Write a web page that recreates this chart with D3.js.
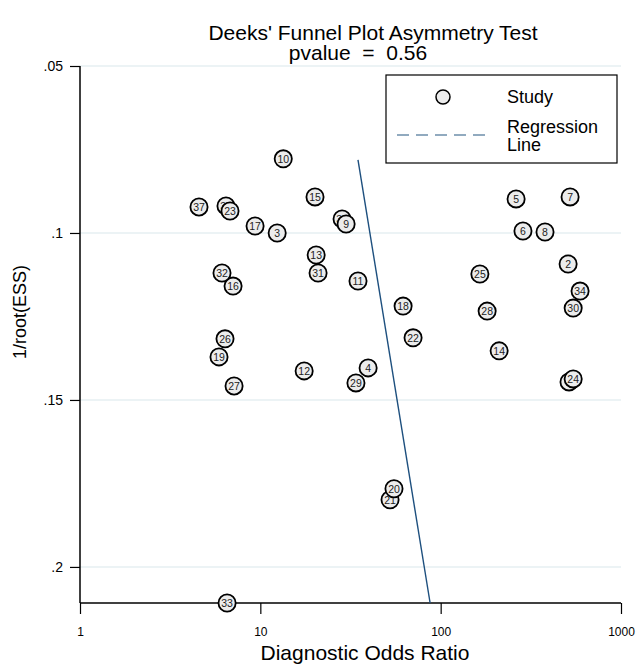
<!DOCTYPE html>
<html>
<head>
<meta charset="utf-8">
<script src="https://cdn.jsdelivr.net/npm/d3@7"></script>
<style>
  body { margin: 0; background: #fff; }
  svg { font-family: "Liberation Sans", Arial, Helvetica, sans-serif; }
</style>
</head>
<body>
<svg id="deeks" width="637" height="669"></svg>
<script>
// study data (listed in drawing order)
var studyIds = [35, 36, 1, 2, 3, 4, 5, 6, 7, 8, 9, 10, 11, 12, 13, 14, 15, 16, 17, 18, 19,
  21, 20, 22, 23, 24, 25, 26, 27, 28, 29, 30, 31, 32, 33, 34, 37];
var oddsRatio = [6.45, 28.4, 515, 509, 12.4, 39.6, 262, 286, 522, 379, 29.9, 13.4, 34.8,
  17.5, 20.4, 211, 20.1, 7.06, 9.35, 61.9, 5.90, 52.4, 55.1, 70.3, 6.79, 543, 165, 6.37,
  7.15, 181, 33.9, 543, 20.9, 6.13, 6.54, 593, 4.57];
var invRootEss = [.0919, .0958, .1446, .1093, .1000, .1404, .0898, .0994, .0892, .0997,
  .0973, .0778, .1144, .1413, .1066, .1353, .0892, .1159, .0979, .1219, .1371, .1799,
  .1766, .1314, .0934, .1437, .1123, .1317, .1458, .1234, .1449, .1225, .1120, .1120,
  .2108, .1174, .0922];
// regression line end points
var regOdds = [34.8, 87.4];
var regY = [.0781, .2108];
var xTicks = [1, 10, 100, 1000];
var yTicks = [.05, .1, .15, .2];

var deeksPlot = function() {
  var svg = d3.select('#deeks');
  var mLeft = 80, mRight = 621, mTop = 66, mBottom = 603;

  var x = d3.scaleLog().domain([1, 1000]).range([mLeft, mRight]);
  var y = d3.scaleLinear().domain([.05, .2108]).range([mTop, mBottom]);

  // grid lines
  svg.selectAll('.grid').data(yTicks).enter().append('line')
    .attr('x1', mLeft).attr('x2', mRight)
    .attr('y1', d => y(d)).attr('y2', d => y(d))
    .attr('stroke', '#e6eff2').attr('stroke-width', 1.5);

  // axes
  var yAxis = svg.append('g').attr('transform', 'translate(' + mLeft + ',0)')
    .call(d3.axisLeft(y).tickValues(yTicks).tickSize(10).tickPadding(7)
      .tickFormat(d => d3.format('.2~f')(d).replace(/^0/, '')));
  yAxis.select('.domain').attr('d', 'M0,' + mTop + 'V' + mBottom)
    .attr('stroke', '#000').attr('stroke-width', 1.5);
  yAxis.selectAll('.tick line').attr('stroke', '#000').attr('stroke-width', 1.2);
  yAxis.selectAll('text').attr('font-size', 14).attr('fill', '#000');

  var xAxis = svg.append('g').attr('transform', 'translate(0,' + mBottom + ')')
    .call(d3.axisBottom(x).tickValues(xTicks).tickSize(11).tickPadding(13)
      .tickFormat(d3.format('d')));
  xAxis.select('.domain').attr('d', 'M' + mLeft + ',0H' + mRight)
    .attr('stroke', '#000').attr('stroke-width', 1.5);
  xAxis.selectAll('.tick line').attr('stroke', '#000').attr('stroke-width', 1.2);
  xAxis.selectAll('text').attr('font-size', 12).attr('fill', '#000');

  // regression line
  svg.append('line')
    .attr('x1', x(regOdds[0])).attr('y1', y(regY[0]))
    .attr('x2', x(regOdds[1])).attr('y2', y(regY[1]))
    .attr('stroke', '#1d4f7e').attr('stroke-width', 1.4);

  // studies
  var pts = svg.selectAll('.study').data(studyIds).enter().append('g')
    .attr('transform', (d, i) => 'translate(' + x(oddsRatio[i]) + ',' + y(invRootEss[i]) + ')');
  pts.append('circle').attr('r', 8.6)
    .attr('fill', '#ececec').attr('stroke', '#000').attr('stroke-width', 1.8);
  pts.append('text').text(d => d)
    .attr('text-anchor', 'middle').attr('dy', '0.36em')
    .attr('font-size', 10.5).attr('fill', '#222');

  // titles
  svg.append('text').attr('x', 373).attr('y', 40).attr('text-anchor', 'middle')
    .attr('font-size', 21).text("Deeks' Funnel Plot Asymmetry Test");
  svg.append('text').attr('x', 358).attr('y', 60).attr('text-anchor', 'middle')
    .attr('font-size', 21).attr('xml:space', 'preserve').text('pvalue  =  0.56');
  svg.append('text').attr('x', 365).attr('y', 660).attr('text-anchor', 'middle')
    .attr('font-size', 21).text('Diagnostic Odds Ratio');
  svg.append('text').attr('transform', 'translate(26,312) rotate(-90)')
    .attr('text-anchor', 'middle').attr('font-size', 18).text('1/root(ESS)');

  // legend
  var lg = svg.append('g');
  lg.append('rect').attr('x', 386).attr('y', 75).attr('width', 231).attr('height', 88)
    .attr('fill', '#fff').attr('stroke', '#000').attr('stroke-width', 1.2);
  lg.append('circle').attr('cx', 443).attr('cy', 97).attr('r', 7)
    .attr('fill', '#ececec').attr('stroke', '#000').attr('stroke-width', 1.5);
  lg.append('line').attr('x1', 397).attr('x2', 490).attr('y1', 135).attr('y2', 135)
    .attr('stroke', '#6d8fab').attr('stroke-width', 1.3).attr('stroke-dasharray', '12,7');
  lg.append('text').attr('x', 507).attr('y', 103).attr('font-size', 18).text('Study');
  lg.append('text').attr('x', 507).attr('y', 133).attr('font-size', 18).text('Regression');
  lg.append('text').attr('x', 507).attr('y', 151).attr('font-size', 18).text('Line');
};

deeksPlot();
</script>
</body>
</html>
